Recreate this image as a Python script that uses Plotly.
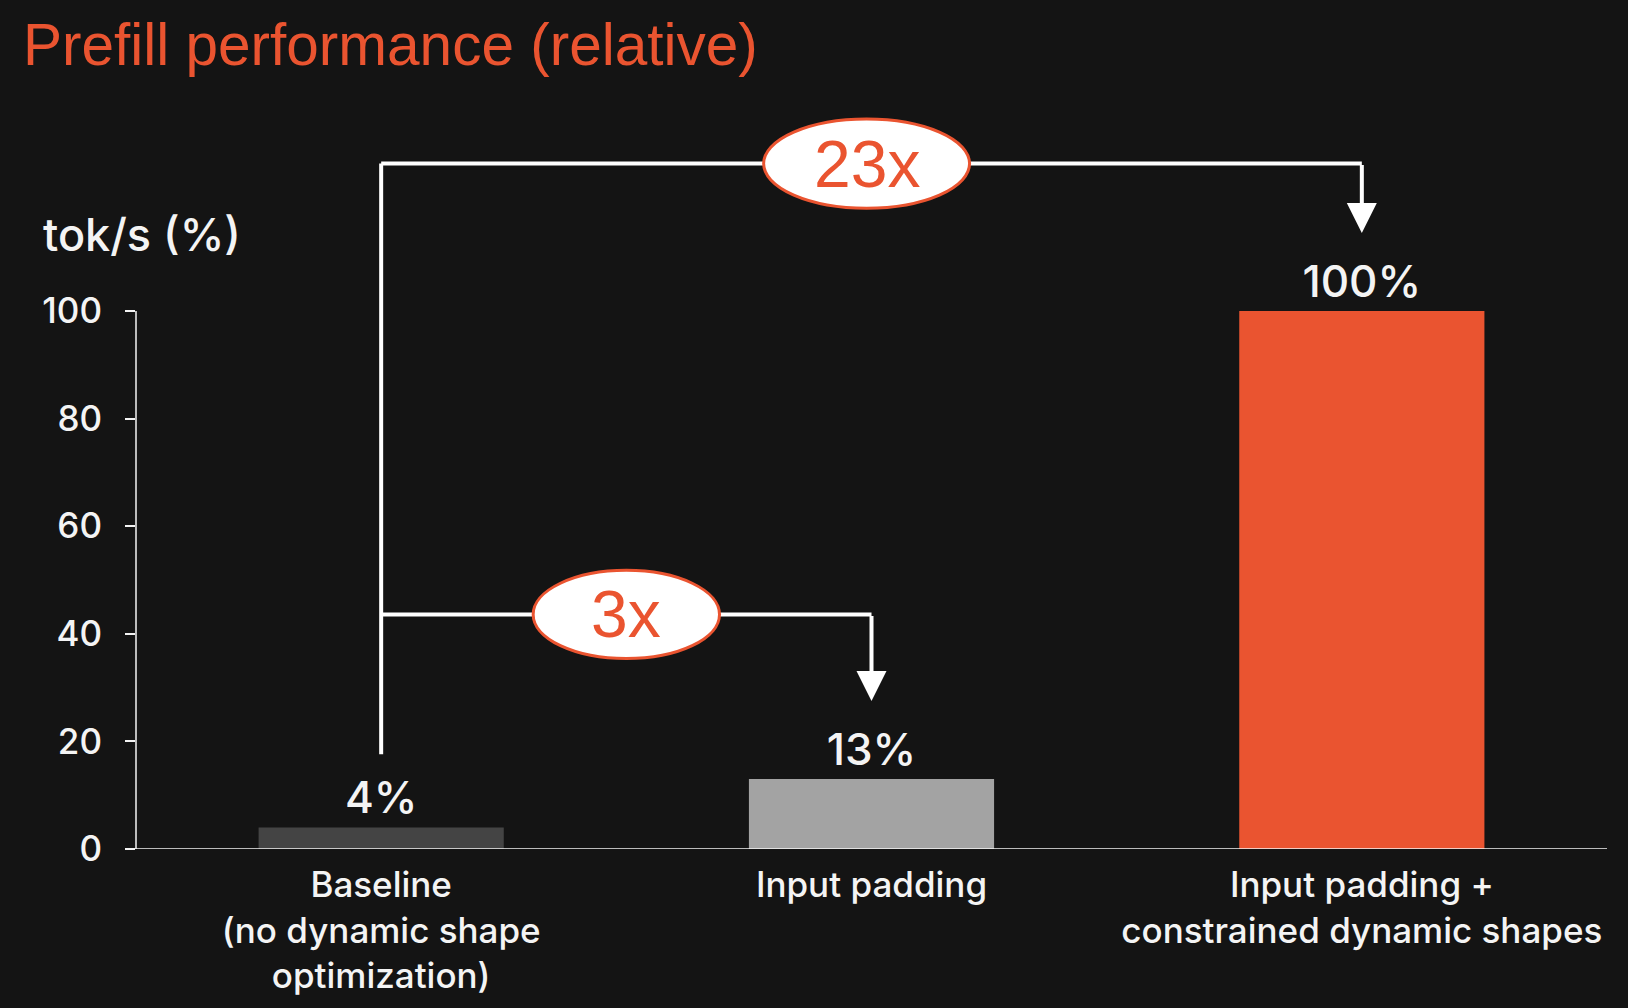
import plotly.graph_objects as go

# ---- data ----
categories = ["Baseline<br>(no dynamic shape<br>optimization)",
              "Input padding",
              "Input padding +<br>constrained dynamic shapes"]
values = [4, 13, 100]
value_labels = ["4%", "13%", "100%"]
speedup_labels = ["3x", "23x"]
speedup_targets = [1, 2]          # index of compared bar (vs baseline index 0)
y_ticks = [0, 20, 40, 60, 80, 100]

# ---- style / layout constants ----
BG = "#141414"
WHITE = "#F4F4F4"
ORANGE = "#EA5430"
bar_colors = ["#444444", "#A3A3A3", ORANGE]
bracket_levels = [43.6, 127.4]     # y (data units) of the bracket horizontals
arrow_gap = 14.5                   # gap above a bar's value to the arrow tip
start_gap = 13.6                   # gap above baseline value where bracket starts
ellipse_w = [0.38, 0.42]
ellipse_h = [16.4, 16.6]
ellipse_cx = [0.5, 0.99]

W, H = 1628, 1008
ML, MR, MT, MB = 136, 21, 42, 159
plot_w = W - ML - MR

fig = go.Figure()
fig.add_trace(go.Bar(
    x=[0, 1, 2], y=values, width=0.5,
    marker=dict(color=bar_colors, line=dict(width=0)),
    text=value_labels, textposition="outside", cliponaxis=False,
    textfont=dict(family="Inter", size=44, color=WHITE, weight=500),
    hoverinfo="skip",
))

shapes = []
annotations = []
# y axis line (0..100) and x axis line
shapes.append(dict(type="line", xref="paper", yref="y", x0=0, x1=0, y0=0, y1=max(y_ticks),
                   line=dict(color=WHITE, width=1.5), layer="above"))
shapes.append(dict(type="line", xref="paper", yref="y", x0=-10 / plot_w, x1=1, y0=0, y1=0,
                   line=dict(color=WHITE, width=1.5), layer="above"))

# vertical bracket stem from baseline
shapes.append(dict(type="line", xref="x", yref="y", x0=0, x1=0,
                   y0=values[0] + start_gap, y1=max(bracket_levels),
                   line=dict(color="white", width=4)))
for lvl, tgt in zip(bracket_levels, speedup_targets):
    shapes.append(dict(type="line", xref="x", yref="y", x0=0, x1=tgt, y0=lvl, y1=lvl,
                       line=dict(color="white", width=4)))
    annotations.append(dict(x=tgt, y=values[tgt] + arrow_gap, ax=tgt, ay=lvl,
                            xref="x", yref="y", axref="x", ayref="y", text="",
                            showarrow=True, arrowhead=2, arrowsize=1.5, arrowwidth=4,
                            arrowcolor="white", standoff=0, startstandoff=0))
for lvl, lab, cx, ew, eh in zip(bracket_levels, speedup_labels, ellipse_cx, ellipse_w, ellipse_h):
    shapes.append(dict(type="circle", xref="x", yref="y", x0=cx - ew / 2, x1=cx + ew / 2,
                       y0=lvl - eh / 2, y1=lvl + eh / 2, fillcolor="white",
                       line=dict(color=ORANGE, width=3), layer="above"))
    annotations.append(dict(x=cx, y=lvl, xref="x", yref="y", text=lab, showarrow=False,
                            font=dict(family="Liberation Sans", size=66, color=ORANGE),
                            xanchor="center", yanchor="middle"))

# y-axis title
annotations.append(dict(x=-(ML - 41) / plot_w, y=114.2, xref="paper", yref="y",
                        text="tok/s (%)", showarrow=False, xanchor="left", yanchor="middle",
                        font=dict(family="Inter", size=45, color=WHITE, weight=500)))

fig.update_layout(
    width=W, height=H,
    paper_bgcolor=BG, plot_bgcolor=BG,
    margin=dict(l=ML, r=MR, t=MT, b=MB),
    showlegend=False,
    title=dict(text="Prefill performance (relative)", xref="container", yref="container",
               x=23 / W, xanchor="left", y=1 - 45 / H, yanchor="middle",
               font=dict(family="Liberation Sans", size=58.5, color=ORANGE)),
    xaxis=dict(range=[-0.5, 2.5], tickvals=[0, 1, 2], ticktext=categories,
               showline=False, showgrid=False, zeroline=False, ticks="",
               ticklabelstandoff=12,
               tickfont=dict(family="Inter", size=35, color=WHITE, weight=500)),
    yaxis=dict(range=[0, 150], tickvals=y_ticks, showline=False, showgrid=False,
               zeroline=False, ticks="outside", ticklen=10, tickwidth=1.5, tickcolor=WHITE,
               ticklabelstandoff=16,
               tickfont=dict(family="Inter", size=35, color=WHITE, weight=500)),
    shapes=shapes, annotations=annotations,
)

fig.write_html("out.html", config={"displayModeBar": False},
               post_script="document.body.style.margin='0';"
                           "document.body.style.background='#141414';")
